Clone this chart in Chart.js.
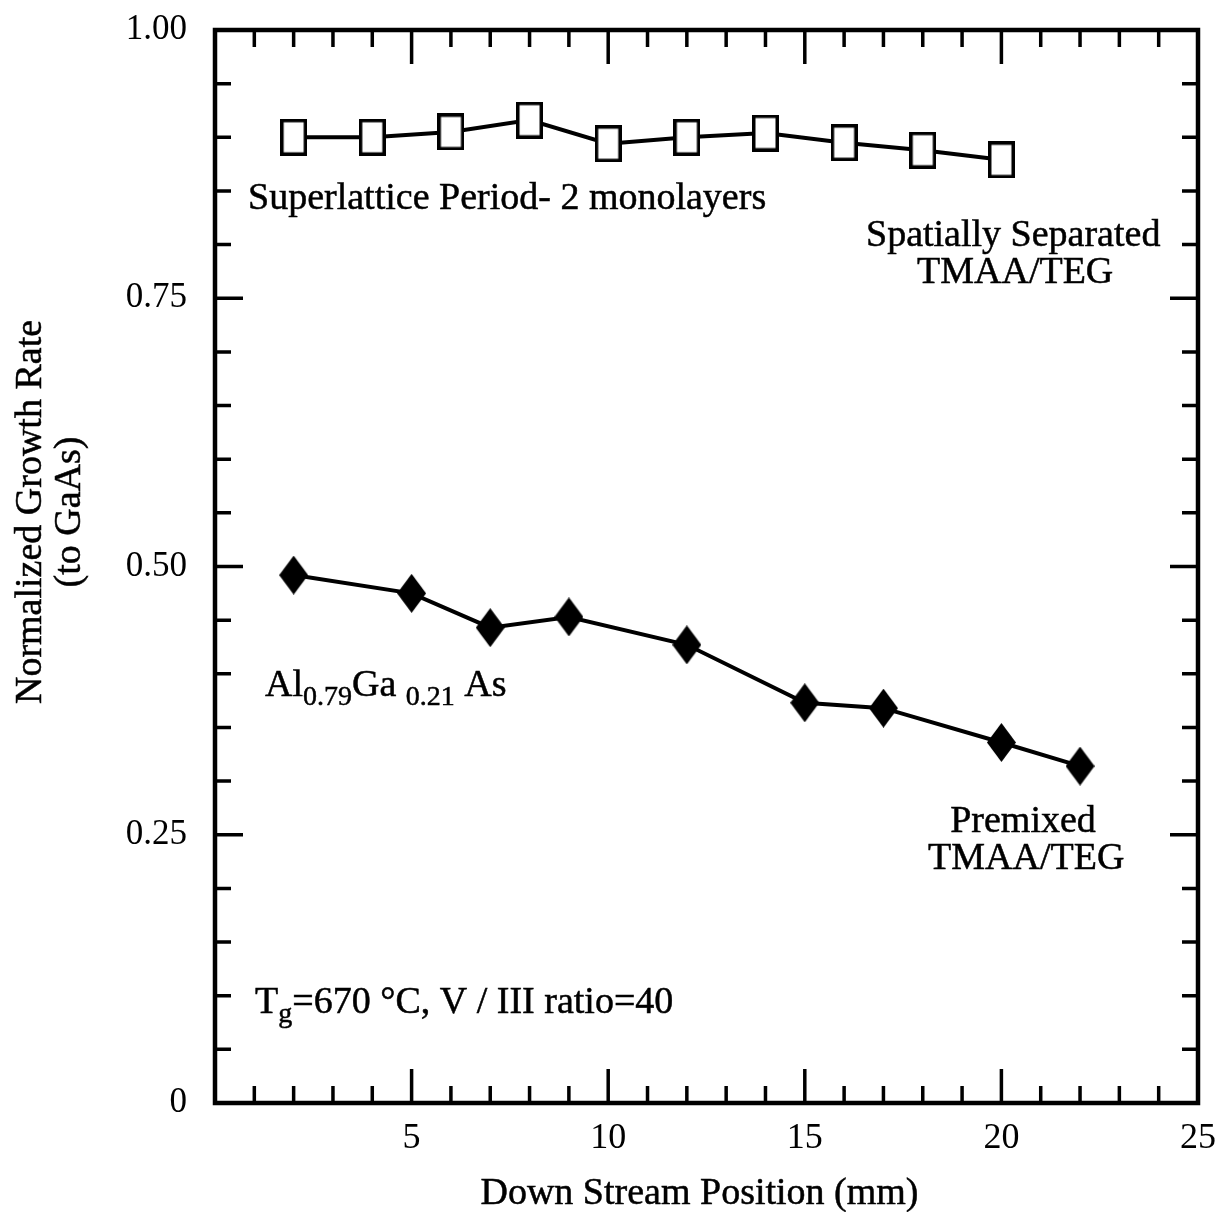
<!DOCTYPE html>
<html>
<head>
<meta charset="utf-8">
<script src="https://cdn.jsdelivr.net/npm/chart.js@4.4.1/dist/chart.umd.min.js"></script>
<style>
  html, body { margin: 0; padding: 0; background: #fff; }
  canvas { display: block; }
</style>
</head>
<body>
<canvas id="growth" width="1220" height="1212"></canvas>
<script>
// Spatially separated TMAA/TEG (superlattice, 2 monolayer period)
const separatedPos = [2, 4, 6, 8, 10, 12, 14, 16, 18, 20];
const separatedRate = [0.900, 0.900, 0.905, 0.916, 0.894, 0.900, 0.904, 0.895, 0.888, 0.879];

// Premixed TMAA/TEG (Al0.79Ga0.21As)
const premixedPos = [2, 5, 7, 9, 12, 15, 17, 20, 22];
const premixedRate = [0.492, 0.475, 0.443, 0.453, 0.427, 0.373, 0.368, 0.336, 0.314];

// Labelled ticks
const xTickLabels = [5, 10, 15, 20, 25];
const yTickValues = [0, 0.25, 0.5, 0.75, 1.0];
const yTickLabels = ['0', '0.25', '0.50', '0.75', '1.00'];

const SERIF = "'Liberation Serif', 'Times New Roman', serif";

// Marker bitmaps: open rectangle and filled diamond (slightly taller than wide)
function makeRectMarker(w, h, lw) {
  const c = document.createElement('canvas');
  c.width = w; c.height = h;
  const g = c.getContext('2d');
  g.fillStyle = '#fff';
  g.fillRect(0, 0, w, h);
  g.strokeStyle = '#000';
  g.lineWidth = lw;
  g.strokeRect(lw / 2, lw / 2, w - lw, h - lw);
  return c;
}
function makeDiamondMarker(w, h) {
  const c = document.createElement('canvas');
  c.width = w; c.height = h;
  const g = c.getContext('2d');
  g.fillStyle = '#000';
  g.beginPath();
  g.moveTo(w / 2, 0);
  g.lineTo(w, h / 2);
  g.lineTo(w / 2, h);
  g.lineTo(0, h / 2);
  g.closePath();
  g.fill();
  return c;
}
const rectMarker = makeRectMarker(27, 37, 3.5);
const diamondMarker = makeDiamondMarker(29, 39);

const toPoints = (xs, ys) => xs.map((x, i) => ({ x: x, y: ys[i] }));

// Text notes placed in data coordinates; each is a list of [text, subscript?] runs
const notes = [
  { runs: [['Superlattice Period- 2 monolayers']], x: 0.84, y: 0.833, align: 'left' },
  { runs: [['Spatially Separated']], x: 20.3, y: 0.799, align: 'center' },
  { runs: [['TMAA/TEG']], x: 20.35, y: 0.764, align: 'center' },
  { runs: [['Al'], ['0.79', true], ['Ga '], ['0.21', true], [' As']], x: 1.27, y: 0.379, align: 'left' },
  { runs: [['Premixed']], x: 20.55, y: 0.253, align: 'center' },
  { runs: [['TMAA/TEG']], x: 20.63, y: 0.218, align: 'center' },
  { runs: [['T'], ['g', true], ['=670 \u00B0C, V / III ratio=40']], x: 1.02, y: 0.084, align: 'left' }
];

const MAIN_FONT = '38px ' + SERIF;
const SUB_FONT = '28px ' + SERIF;

function runWidth(ctx, runs) {
  let w = 0;
  for (const [t, sub] of runs) {
    ctx.font = sub ? SUB_FONT : MAIN_FONT;
    w += ctx.measureText(t).width;
  }
  return w;
}

const notesPlugin = {
  id: 'notes',
  afterDatasetsDraw(chart) {
    const { ctx, scales: { x, y } } = chart;
    ctx.save();
    ctx.fillStyle = '#000';
    ctx.strokeStyle = '#000';
    ctx.lineWidth = 0.5;
    ctx.textBaseline = 'alphabetic';
    ctx.textAlign = 'left';
    for (const n of notes) {
      let px = x.getPixelForValue(n.x);
      const py = y.getPixelForValue(n.y);
      if (n.align === 'center') px -= runWidth(ctx, n.runs) / 2;
      for (const [t, sub] of n.runs) {
        ctx.font = sub ? SUB_FONT : MAIN_FONT;
        const ty = sub ? py + 9 : py;
        ctx.fillText(t, px, ty);
        ctx.strokeText(t, px, ty);
        px += ctx.measureText(t).width;
      }
    }
    ctx.restore();
  }
};

// Closed frame with inward tick marks on all four sides
const framePlugin = {
  id: 'frame',
  afterDraw(chart) {
    const { ctx, chartArea: a, scales: { x, y } } = chart;
    ctx.save();
    ctx.strokeStyle = '#000';
    ctx.lineCap = 'butt';
    ctx.lineWidth = 3.5;
    ctx.beginPath();
    x.ticks.forEach((t, i) => {
      if (i === 0 || i === x.ticks.length - 1) return;
      const px = x.getPixelForValue(t.value);
      const len = t.label !== '' ? 34 : 17;
      ctx.moveTo(px, a.top); ctx.lineTo(px, a.top + len);
      ctx.moveTo(px, a.bottom); ctx.lineTo(px, a.bottom - len);
    });
    y.ticks.forEach((t, i) => {
      if (i === 0 || i === y.ticks.length - 1) return;
      const py = y.getPixelForValue(t.value);
      const len = t.label !== '' ? 28 : 16;
      ctx.moveTo(a.left, py); ctx.lineTo(a.left + len, py);
      ctx.moveTo(a.right, py); ctx.lineTo(a.right - len, py);
    });
    ctx.stroke();
    ctx.lineWidth = 4.5;
    ctx.strokeRect(a.left, a.top, a.right - a.left, a.bottom - a.top);
    ctx.restore();
  }
};

// Axis titles
const titlesPlugin = {
  id: 'axisTitles',
  afterDraw(chart) {
    const { ctx, chartArea: a } = chart;
    ctx.save();
    ctx.fillStyle = '#000';
    ctx.strokeStyle = '#000';
    ctx.lineWidth = 0.5;
    ctx.font = '38px ' + SERIF;
    ctx.textAlign = 'center';
    ctx.textBaseline = 'alphabetic';
    const xt = 'Down Stream Position (mm)';
    const cx = (a.left + a.right) / 2 - 7;
    ctx.fillText(xt, cx, 1204);
    ctx.strokeText(xt, cx, 1204);
    ctx.translate(0, 512);
    ctx.rotate(-Math.PI / 2);
    ctx.fillText('Normalized Growth Rate', 0, 41);
    ctx.strokeText('Normalized Growth Rate', 0, 41);
    ctx.fillText('(to GaAs)', 0, 80);
    ctx.strokeText('(to GaAs)', 0, 80);
    ctx.restore();
  }
};

new Chart(document.getElementById('growth'), {
  type: 'line',
  data: {
    datasets: [
      {
        label: 'Spatially Separated TMAA/TEG',
        data: toPoints(separatedPos, separatedRate),
        borderColor: '#000',
        borderWidth: 4,
        pointStyle: rectMarker,
        pointRadius: 14,
        tension: 0
      },
      {
        label: 'Premixed TMAA/TEG',
        data: toPoints(premixedPos, premixedRate),
        borderColor: '#000',
        borderWidth: 4,
        pointStyle: diamondMarker,
        pointRadius: 14,
        tension: 0
      }
    ]
  },
  options: {
    responsive: false,
    animation: false,
    events: [],
    layout: { padding: { left: 0, right: 22, top: 30, bottom: 0 } },
    plugins: {
      legend: { display: false },
      tooltip: { enabled: false }
    },
    scales: {
      x: {
        type: 'linear',
        min: 0,
        max: 25,
        grid: { display: false, drawTicks: false, tickLength: 0 },
        border: { display: false },
        afterFit(scale) {
          scale.height = 109;
          scale.paddingLeft = 0;
          scale.paddingRight = 0;
        },
        ticks: {
          stepSize: 1,
          autoSkip: false,
          maxRotation: 0,
          padding: 14,
          color: '#000',
          font: { family: SERIF, size: 36 },
          callback: v => (xTickLabels.includes(v) ? String(v) : '')
        }
      },
      y: {
        type: 'linear',
        min: 0,
        max: 1,
        grid: { display: false, drawTicks: false, tickLength: 0 },
        border: { display: false },
        afterFit(scale) {
          scale.width = 215;
          scale.paddingTop = 0;
          scale.paddingBottom = 0;
        },
        ticks: {
          stepSize: 0.05,
          autoSkip: false,
          padding: 28,
          color: '#000',
          font: { family: SERIF, size: 35 },
          callback: v => {
            const k = yTickValues.findIndex(t => Math.abs(t - v) < 1e-6);
            return k >= 0 ? yTickLabels[k] : '';
          }
        }
      }
    }
  },
  plugins: [notesPlugin, framePlugin, titlesPlugin]
});
</script>
</body>
</html>
